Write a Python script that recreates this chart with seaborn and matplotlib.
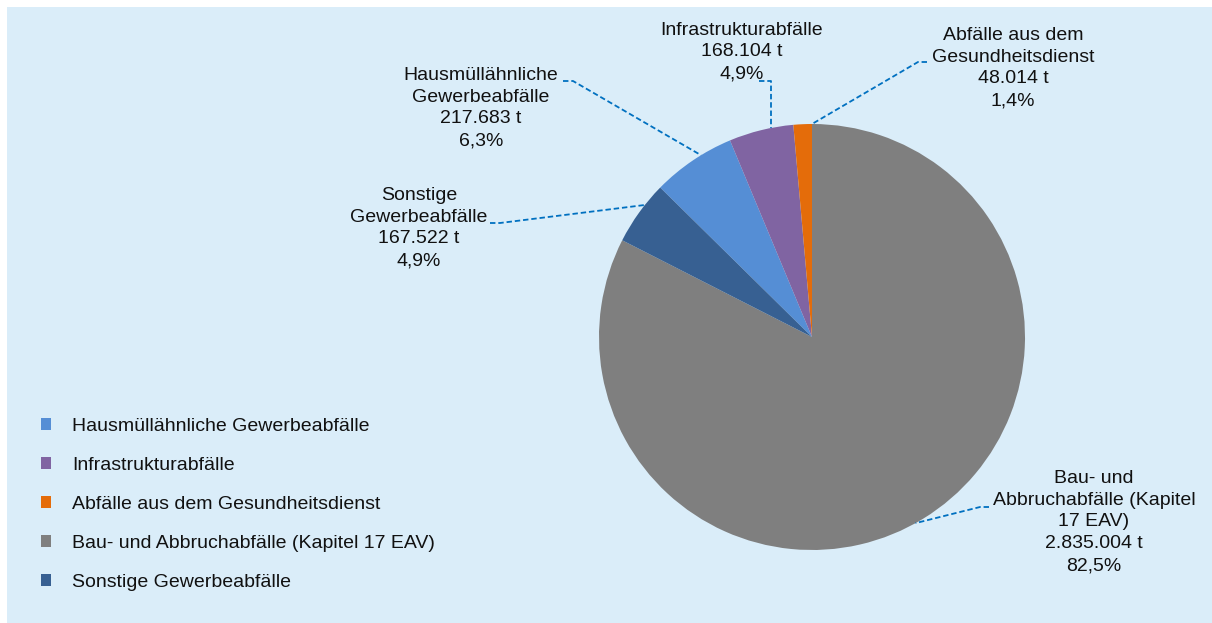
import numpy as np
import matplotlib.pyplot as plt
import seaborn as sns
from matplotlib.patches import Rectangle

# data
kategorien = ['Hausmüllähnliche Gewerbeabfälle', 'Infrastrukturabfälle',
              'Abfälle aus dem Gesundheitsdienst', 'Bau- und Abbruchabfälle (Kapitel 17 EAV)',
              'Sonstige Gewerbeabfälle']
label_namen = ['Hausmüllähnliche\nGewerbeabfälle', 'Infrastrukturabfälle',
               'Abfälle aus dem\nGesundheitsdienst', 'Bau- und\nAbbruchabfälle (Kapitel\n17 EAV)',
               'Sonstige\nGewerbeabfälle']
tonnen = [217683, 168104, 48014, 2835004, 167522]
farben = ['#558ED5', '#8064A2', '#E46C0A', '#7F7F7F', '#376092']

W, H = 1212, 623
BG = '#DAEDF9'
FS = 14

sns.set_theme(style='white')
plt.rcParams['font.family'] = ['Liberation Sans', 'DejaVu Sans']

fig = plt.figure(figsize=(W / 100, H / 100), dpi=100, facecolor='white')
ax = fig.add_axes([0, 0, 1, 1])

def py(y):
    # pixel row (from top) -> data y
    return H - y

anteil_vorher = sum(tonnen[:3]) / sum(tonnen)
wedges, _ = ax.pie(tonnen, colors=farben, startangle=90 + anteil_vorher * 360,
                   counterclock=False, center=(812, py(337)), radius=213,
                   wedgeprops=dict(linewidth=0))
ax.set_xlim(0, W)
ax.set_ylim(0, H)
ax.set_aspect('equal')
ax.axis('off')
ax.add_patch(Rectangle((7, 0), W - 7, H - 7, facecolor=BG, edgecolor='none', zorder=-5))

# label layout (pixel coords)
text_pos = [(481, 108), (742, 52), (1013, 68), (1094, 522), (419, 228)]
leader_start = [(563, 81), (759, 81), (927, 62), (989, 507), (490, 223)]
leader_elbow = [(573, 81), (771, 81), (918, 62), (980, 507), (500, 223)]
leader_deg = [121.4, 101.1, 90.0, -60.9, 141.7]

gesamt = sum(tonnen)
for i, w in enumerate(wedges):
    pct = f"{tonnen[i] / gesamt * 100:.1f}".replace('.', ',')
    menge = f"{tonnen[i]:,}".replace(',', '.')
    txt = f"{label_namen[i]}\n{menge} t\n{pct}%"
    x, y = text_pos[i]
    ax.text(x, py(y), txt, ha='center', va='center', fontsize=FS,
            color='#111111', linespacing=1.37)
    cx, cy = w.center
    a = np.deg2rad(leader_deg[i])
    ex, ey = cx + w.r * np.cos(a), cy + w.r * np.sin(a)
    if i == 1:
        ex = leader_elbow[i][0]
    xs = [leader_start[i][0], leader_elbow[i][0], ex]
    ys = [py(leader_start[i][1]), py(leader_elbow[i][1]), ey]
    ax.plot(xs, ys, color='#0070C0', linewidth=1.3, linestyle=(0, (3, 1.6)))

leg = ax.legend(wedges, kategorien, loc='upper left', bbox_to_anchor=(41 / W, 1 - 418 / H),
                frameon=False, fontsize=FS, handlelength=0.52, handleheight=0.52,
                handletextpad=1.1, labelspacing=1.13, borderaxespad=0, borderpad=0)
for t in leg.get_texts():
    t.set_color('#111111')

fig.savefig('out.png', dpi=100, facecolor='white')
